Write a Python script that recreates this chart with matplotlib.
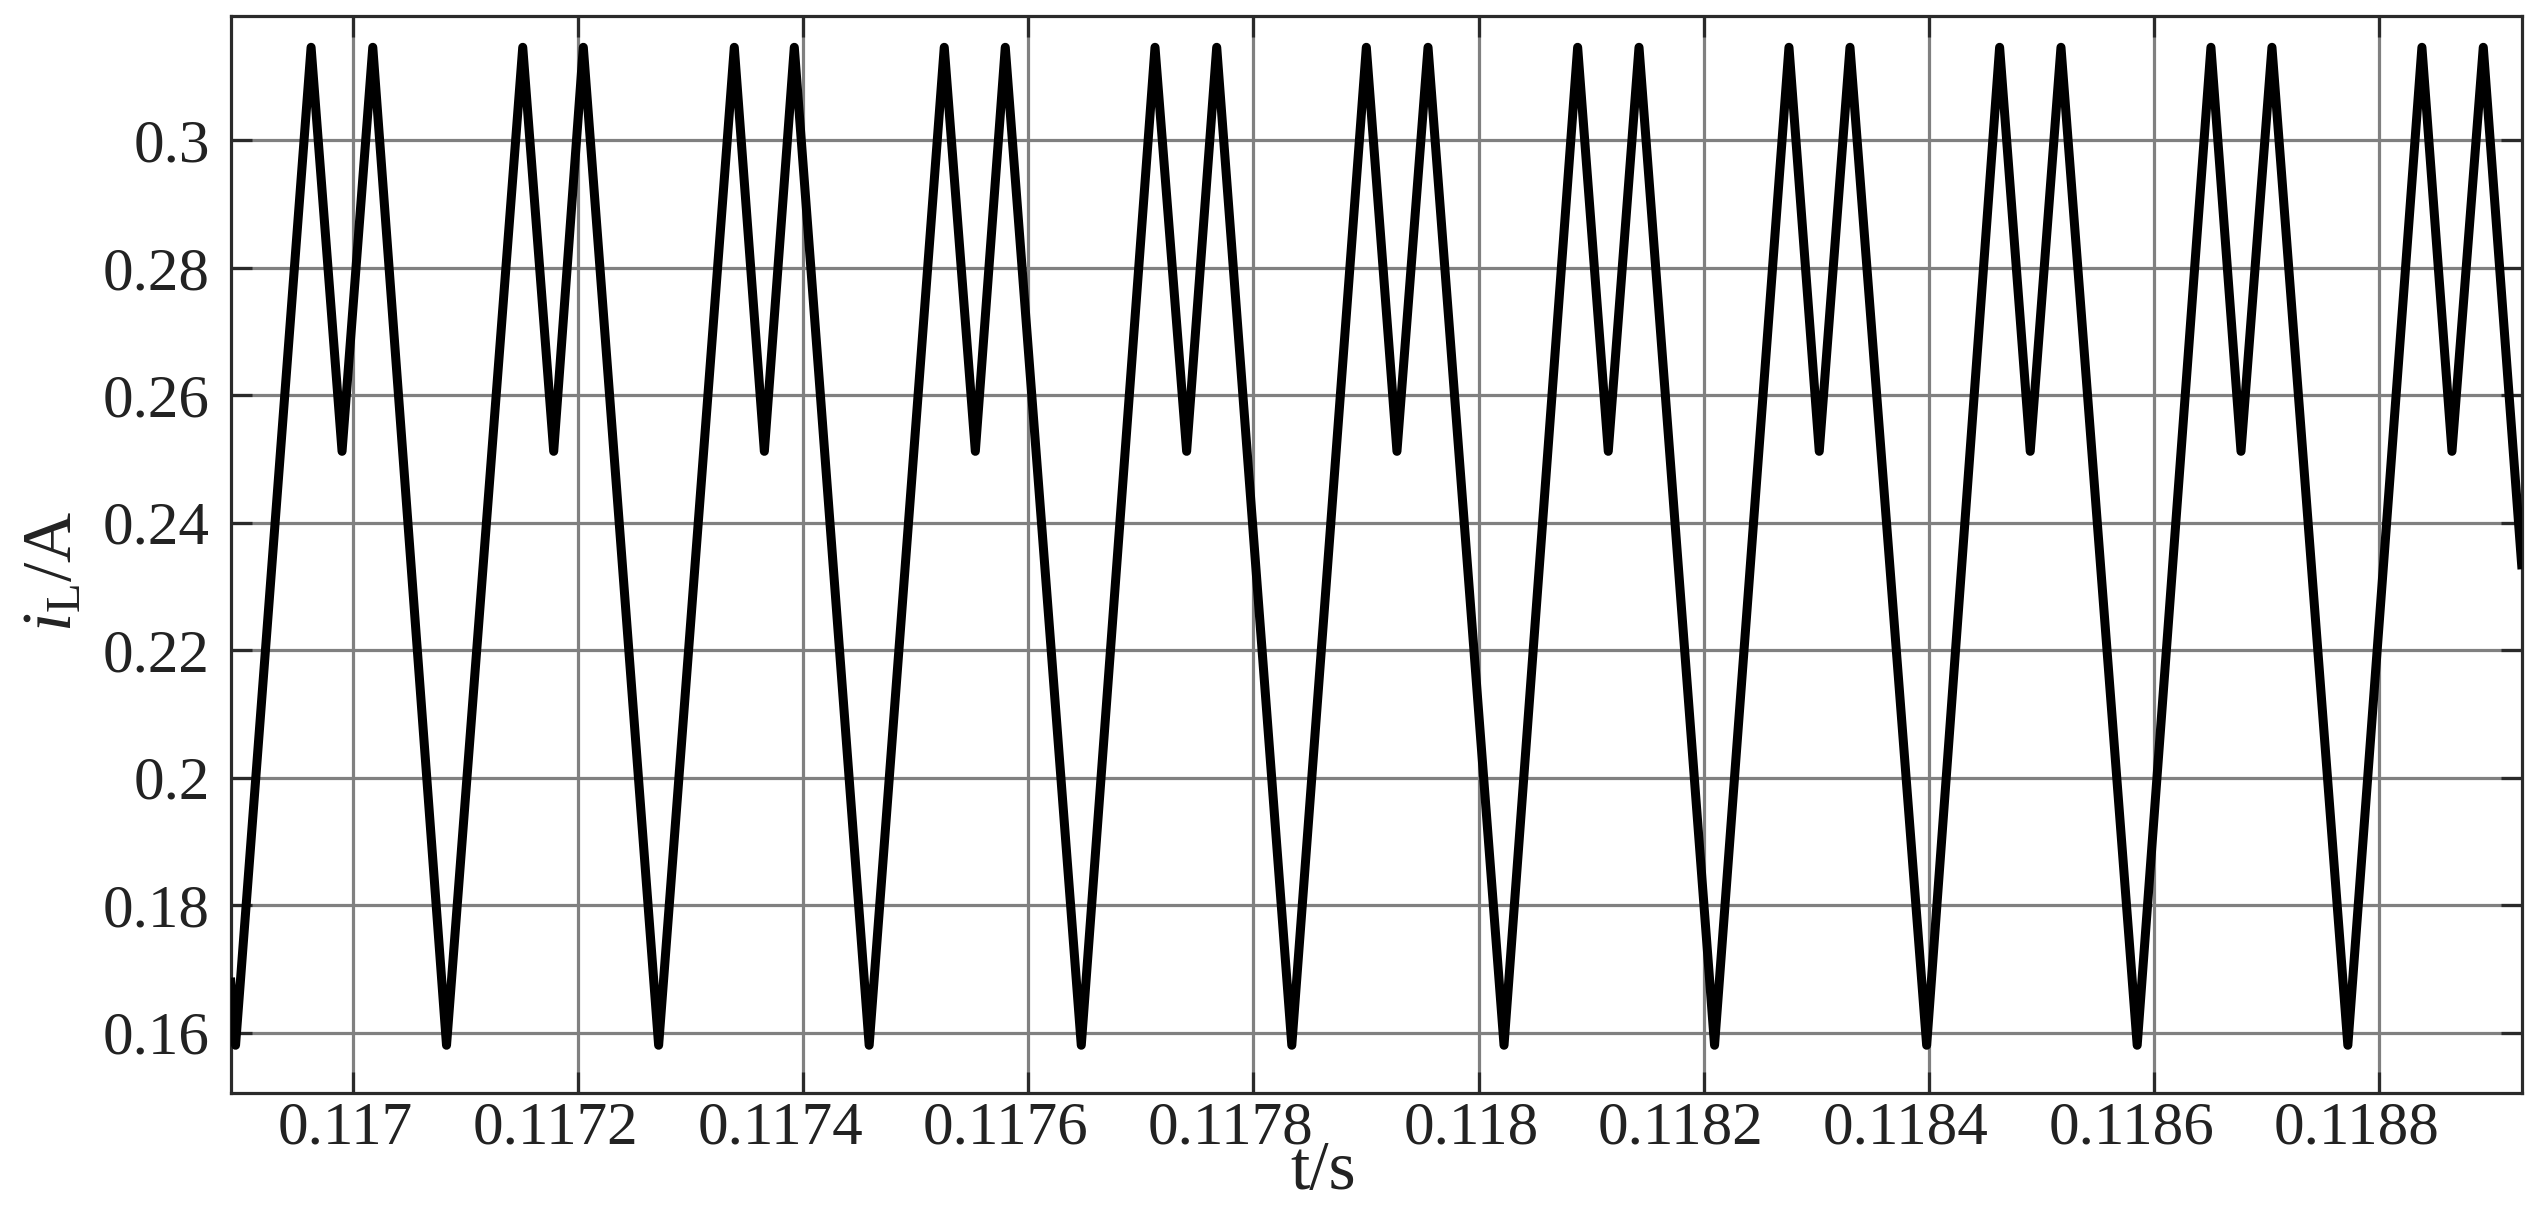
import matplotlib
matplotlib.use("Agg")
import matplotlib.pyplot as plt
from matplotlib.transforms import ScaledTranslation

plt.rcParams['font.family'] = ['Liberation Serif', 'DejaVu Serif']
plt.rcParams['mathtext.fontset'] = 'custom'
plt.rcParams['mathtext.rm'] = 'Liberation Serif'
plt.rcParams['mathtext.it'] = 'Liberation Serif:italic'

# inductor current vertices (t in s, i_L in A)
t_vertex = [0.1168917, 0.1168959,
            0.1169630, 0.1169905, 0.1170178, 0.1170833,
            0.1171510, 0.1171785, 0.1172048, 0.1172717,
            0.1173389, 0.1173656, 0.1173922, 0.1174587,
            0.1175254, 0.1175530, 0.1175796, 0.1176471,
            0.1177126, 0.1177407, 0.1177674, 0.1178341,
            0.1179003, 0.1179275, 0.1179551, 0.1180226,
            0.1180880, 0.1181152, 0.1181425, 0.1182096,
            0.1182757, 0.1183026, 0.1183299, 0.1183980,
            0.1184628, 0.1184900, 0.1185173, 0.1185850,
            0.1186505, 0.1186772, 0.1187047, 0.1187721,
            0.1188379, 0.1188646, 0.1188924, 0.1189265]
i_vertex = [0.1679, 0.1580,
            0.3146, 0.2512, 0.3146, 0.1580,
            0.3146, 0.2512, 0.3146, 0.1580,
            0.3146, 0.2512, 0.3146, 0.1580,
            0.3146, 0.2512, 0.3146, 0.1580,
            0.3146, 0.2512, 0.3146, 0.1580,
            0.3146, 0.2512, 0.3146, 0.1580,
            0.3146, 0.2512, 0.3146, 0.1580,
            0.3146, 0.2512, 0.3146, 0.1580,
            0.3146, 0.2512, 0.3146, 0.1580,
            0.3146, 0.2512, 0.3146, 0.1580,
            0.3146, 0.2512, 0.3146, 0.2334]

x_ticks = [0.1170, 0.1172, 0.1174, 0.1176, 0.1178,
           0.1180, 0.1182, 0.1184, 0.1186, 0.1188]
x_tick_labels = ['0.117', '0.1172', '0.1174', '0.1176', '0.1178',
                 '0.118', '0.1182', '0.1184', '0.1186', '0.1188']
y_ticks = [0.16, 0.18, 0.20, 0.22, 0.24, 0.26, 0.28, 0.30]
y_tick_labels = ['0.16', '0.18', '0.2', '0.22', '0.24', '0.26', '0.28', '0.3']

fig = plt.figure(figsize=(25.42, 12.09), dpi=100)
ax = fig.add_axes([0.0908, 0.0959, 0.9012, 0.8908])

ax.plot(t_vertex, i_vertex, color='black', lw=6.5, solid_joinstyle='round', zorder=3)

ax.set_xlim(0.1168917, 0.1189265)
ax.set_ylim(0.1505, 0.3195)
ax.set_xticks(x_ticks)
ax.set_xticklabels(x_tick_labels)
ax.set_yticks(y_ticks)
ax.set_yticklabels(y_tick_labels)

ax.grid(True, color='#808080', lw=2.3)
ax.set_axisbelow(True)
for s in ax.spines.values():
    s.set_color('#2a2a2a')
    s.set_linewidth(2.3)

ax.tick_params(axis='both', direction='in', length=15, width=2.3, color='#2a2a2a',
               labelsize=44, labelcolor='#222222', top=True, right=True)
ax.tick_params(axis='x', pad=6)
ax.tick_params(axis='y', pad=15)

# x tick labels sit right-aligned a little past their ticks
shift = ScaledTranslation(0.6, 0, fig.dpi_scale_trans)
for lab in ax.get_xticklabels():
    lab.set_ha('right')
    lab.set_transform(lab.get_transform() + shift)

ax.set_xlabel('t/s', fontsize=50, color='#222222', va='top')
ax.xaxis.set_label_coords(0.4768, -0.044)
ax.set_ylabel(r'$i_{\mathrm{L}}$/A', fontsize=50, color='#222222')
ax.yaxis.set_label_coords(-0.063, 0.485)

fig.savefig('out.png', dpi=100)
